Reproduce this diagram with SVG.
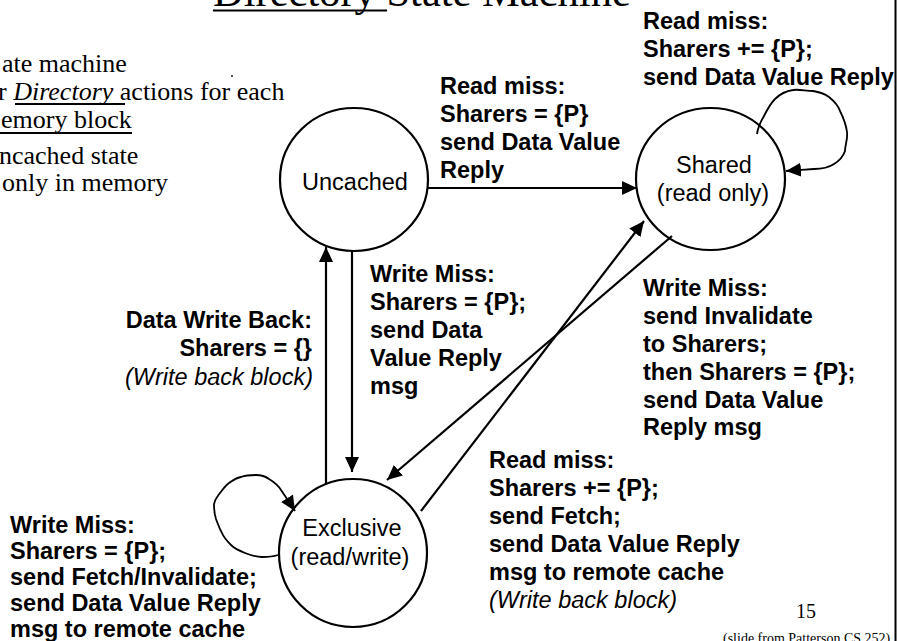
<svg xmlns="http://www.w3.org/2000/svg" width="899" height="641" viewBox="0 0 899 641">
  <style>
    .state { fill: #ffffff; stroke: #000000; stroke-width: 2.2; }
    .name { font-family: "Liberation Sans", Arial, sans-serif; font-size: 23.5px; fill: #000000; text-anchor: middle; }
    .lbl { font-family: "Liberation Sans", Arial, sans-serif; font-size: 23.5px; font-weight: bold; fill: #000000; }
    .note { font-family: "Liberation Sans", Arial, sans-serif; font-size: 23.5px; font-style: italic; fill: #000000; }
    .serif { font-family: "Liberation Serif", "Times New Roman", serif; fill: #000000; }
    .edge { fill: none; stroke: #000000; stroke-width: 2.2; marker-end: url(#head); }
    .loop { fill: none; stroke: #000000; stroke-width: 1.8; stroke-linejoin: round; marker-end: url(#head); }
    .rule { stroke: #000000; stroke-width: 1.8; }
  </style>
  <defs>
    <marker id="head" markerUnits="userSpaceOnUse" markerWidth="16" markerHeight="14" refX="15" refY="7" orient="auto">
      <path d="M0,0 L15,7 L0,14 z" fill="#000000"/>
    </marker>
  </defs>

  <rect x="0" y="0" width="899" height="641" fill="#ffffff"/>

  <!-- slide title -->
  <g id="title">
    <text class="serif" x="213" y="6" font-size="42.5">Directory State Machine</text>
    <line class="rule" x1="213" y1="10.5" x2="387" y2="10.5"/>
  </g>

  <!-- bullet text on the left -->
  <g id="bullets">
    <text class="serif" x="2" y="72" font-size="26">ate machine</text>
    <text class="serif" x="-2" y="100" font-size="26">r <tspan font-style="italic">Directory</tspan> actions for each</text>
    <line class="rule" x1="15" y1="104" x2="125" y2="104" stroke-width="1.5"/>
    <text class="serif" x="1" y="128" font-size="26">emory block</text>
    <line class="rule" x1="0" y1="133" x2="132" y2="133" stroke-width="1.5"/>
    <text class="serif" x="-1" y="164" font-size="26">ncached state</text>
    <text class="serif" x="2" y="191" font-size="26">only in memory</text>
    <circle cx="232" cy="76" r="0.9" fill="#000000"/>
  </g>

  <!-- slide frame edge -->
  <line x1="895.5" y1="0" x2="895.5" y2="641" stroke="#000000" stroke-width="2"/>

  <!-- states -->
  <g id="uncached">
    <ellipse class="state" cx="354" cy="179.5" rx="74" ry="71.5"/>
    <text class="name" x="355" y="190">Uncached</text>
  </g>
  <g id="shared">
    <ellipse class="state" cx="710.5" cy="179" rx="74.5" ry="71"/>
    <text class="name" x="714" y="173">Shared</text>
    <text class="name" x="713" y="201">(read only)</text>
  </g>
  <g id="exclusive">
    <ellipse class="state" cx="353" cy="553" rx="74" ry="74"/>
    <text class="name" x="352" y="536">Exclusive</text>
    <text class="name" x="350" y="565">(read/write)</text>
  </g>

  <!-- transitions -->
  <g id="connectors">
    <line class="edge" x1="428" y1="188" x2="637" y2="188"/>
    <line class="edge" x1="352" y1="251" x2="352" y2="472"/>
    <line class="edge" x1="326" y1="484" x2="326" y2="247"/>
    <line class="edge" x1="672" y1="236" x2="387" y2="480"/>
    <line class="edge" x1="421" y1="511" x2="644" y2="221"/>
    <path class="loop" d="M757,134 C758,127 761,121 764,116 C767,110 770,104 775,99 C780,94 786,91 793,90 C799,89 806,91 813,91 C820,92 825,94 829,97 C834,101 838,105 840,111 C843,117 846,124 847,132 C848,139 845,145 845,151 C843,157 839,161 834,164 C828,168 821,169 814,169 C808,169 803,170 798,170 L786,171"/>
    <path class="loop" d="M278,555 C272,557 267,557 262,557 C256,557 250,555 245,553 C240,551 235,549 231,545 C227,541 224,538 222,533 C219,528 218,524 216,519 C214,513 214,509 214,504 C215,499 217,497 220,493 C223,489 225,486 229,483 C233,480 236,478 241,477 C246,475 250,475 256,475 C262,475 265,476 269,479 C274,482 278,485 281,490 C285,496 290,503 295,511"/>
  </g>

  <!-- transition labels -->
  <g id="label-shared-read">
    <text class="lbl" x="643" y="29">Read miss:</text>
    <text class="lbl" x="643" y="57">Sharers += {P};</text>
    <text class="lbl" x="643" y="85">send Data Value Reply</text>
  </g>
  <g id="label-uncached-read">
    <text class="lbl" x="440" y="94">Read miss:</text>
    <text class="lbl" x="440" y="122">Sharers = {P}</text>
    <text class="lbl" x="440" y="150">send Data Value</text>
    <text class="lbl" x="440" y="178">Reply</text>
  </g>
  <g id="label-uncached-write">
    <text class="lbl" x="370" y="282">Write Miss:</text>
    <text class="lbl" x="370" y="310">Sharers = {P};</text>
    <text class="lbl" x="370" y="338">send Data</text>
    <text class="lbl" x="370" y="366">Value Reply</text>
    <text class="lbl" x="370" y="394">msg</text>
  </g>
  <g id="label-writeback" text-anchor="end">
    <text class="lbl" x="312" y="328">Data Write Back:</text>
    <text class="lbl" x="312" y="356">Sharers = {}</text>
    <text class="note" x="313" y="385">(Write back block)</text>
  </g>
  <g id="label-shared-write">
    <text class="lbl" x="643" y="296">Write Miss:</text>
    <text class="lbl" x="643" y="324">send Invalidate</text>
    <text class="lbl" x="643" y="352">to Sharers;</text>
    <text class="lbl" x="643" y="380">then Sharers = {P};</text>
    <text class="lbl" x="643" y="408">send Data Value</text>
    <text class="lbl" x="643" y="435">Reply msg</text>
  </g>
  <g id="label-exclusive-read">
    <text class="lbl" x="489" y="468">Read miss:</text>
    <text class="lbl" x="489" y="496">Sharers += {P};</text>
    <text class="lbl" x="489" y="524">send Fetch;</text>
    <text class="lbl" x="489" y="552">send Data Value Reply</text>
    <text class="lbl" x="489" y="580">msg to remote cache</text>
    <text class="note" x="489" y="608">(Write back block)</text>
  </g>
  <g id="label-exclusive-write">
    <text class="lbl" x="10" y="533">Write Miss:</text>
    <text class="lbl" x="10" y="559">Sharers = {P};</text>
    <text class="lbl" x="10" y="585">send Fetch/Invalidate;</text>
    <text class="lbl" x="10" y="611">send Data Value Reply</text>
    <text class="lbl" x="10" y="637">msg to remote cache</text>
  </g>

  <!-- page number and credit -->
  <g id="footer">
    <text class="serif" x="796" y="618" font-size="20">15</text>
    <text class="serif" x="723" y="643" font-size="14">(slide from Patterson CS 252)</text>
  </g>
</svg>
